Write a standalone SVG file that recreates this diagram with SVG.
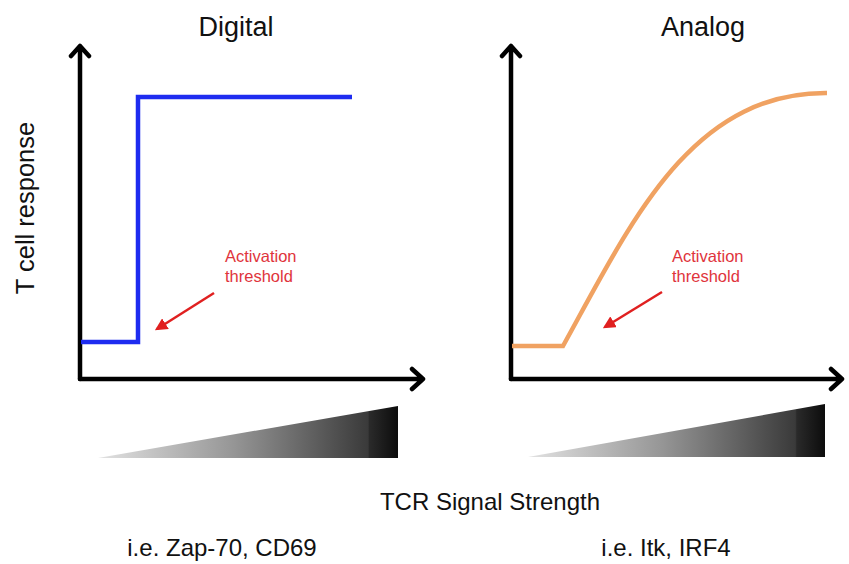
<svg xmlns="http://www.w3.org/2000/svg" width="849" height="564" viewBox="0 0 849 564">
<defs>
<style>
.t{font-family:"Liberation Sans",Arial,sans-serif;fill:#111}
.title{font-size:27px}
.lbl{font-size:24px}
.ylbl{font-size:25.5px}
.red{font-family:"Liberation Sans",Arial,sans-serif;font-size:16.5px;fill:#e0343c}
.axis{stroke:#000;stroke-width:4.5;fill:none;stroke-linecap:round;stroke-linejoin:round}
.ptr{stroke:#e02020;stroke-width:2.5;fill:none}
</style>
<marker id="ah" viewBox="0 0 10 10" refX="8" refY="5" markerWidth="5" markerHeight="5" orient="auto">
<path d="M0,0 L10,5 L0,10 z" fill="#e02020"/>
</marker>
<linearGradient id="g" x1="0" y1="0" x2="1" y2="0">
<stop offset="0" stop-color="#e2e2e2"/>
<stop offset="0.45" stop-color="#969696"/>
<stop offset="0.9" stop-color="#3a3a3a"/>
<stop offset="0.905" stop-color="#2a2a2a"/>
<stop offset="1" stop-color="#0c0c0c"/>
</linearGradient>
</defs>
<rect width="849" height="564" fill="#fff"/>
<g id="digital-panel">
<text class="t title" x="236" y="36" text-anchor="middle">Digital</text>
<path class="axis" d="M80,379 L80,46 M71,56 L80,46 L89,56"/>
<path class="axis" d="M80,379 L423,379 M412,369 L423,379 L412,389"/>
<path d="M81,342 L138,342 L138,97 L352,97" fill="none" stroke="#1e2cf0" stroke-width="4.5"/>
<text class="red" x="225" y="262">Activation</text>
<text class="red" x="225" y="282">threshold</text>
<line class="ptr" x1="214" y1="293" x2="157" y2="329" marker-end="url(#ah)"/>
<polygon points="98,458 398,406 398,458" fill="url(#g)"/>
</g>
<g id="analog-panel">
<text class="t title" x="703" y="36" text-anchor="middle">Analog</text>
<path class="axis" d="M511,379 L511,46 M502,56 L511,46 L520,56"/>
<path class="axis" d="M511,379 L842,379 M831,369 L842,379 L831,389"/>
<path d="M512,346 L563,346 C630,225 690,92 827,93" fill="none" stroke="#f0a262" stroke-width="4.5"/>
<text class="red" x="672" y="262">Activation</text>
<text class="red" x="672" y="282">threshold</text>
<line class="ptr" x1="662" y1="292" x2="605" y2="327" marker-end="url(#ah)"/>
<polygon points="528,457 825,404 825,457" fill="url(#g)"/>
</g>
<g id="labels">
<text class="t ylbl" transform="translate(34,208) rotate(-90)" text-anchor="middle">T cell response</text>
<text class="t lbl" x="490" y="510" text-anchor="middle">TCR Signal Strength</text>
<text class="t lbl" x="222" y="556" text-anchor="middle">i.e. Zap-70, CD69</text>
<text class="t lbl" x="666" y="556" text-anchor="middle">i.e. Itk, IRF4</text>
</g>
</svg>
